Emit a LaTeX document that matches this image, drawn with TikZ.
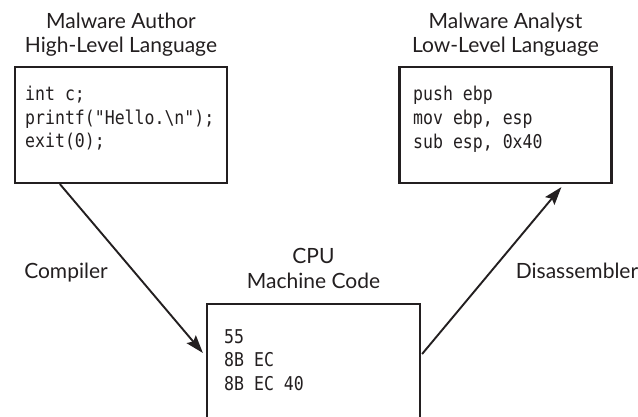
\documentclass[tikz,border=0pt]{standalone}
\usepackage{fontspec}
\setmainfont{Lato}
\newfontfamily\codefont[FakeStretch=0.87]{DejaVu Sans Mono}
\usetikzlibrary{arrows.meta,calc}
\definecolor{ink}{HTML}{231F20}
\tikzset{
  box/.style={draw=ink, line width=2.2pt, rectangle, inner sep=0pt, minimum width=212pt, minimum height=116pt},
  title/.style={anchor=base, inner sep=0pt, text=ink, font=\fontsize{21}{24}\selectfont},
  code/.style={anchor=base west, inner sep=0pt, text=ink, font=\codefont\fontsize{19}{22}\selectfont},
  conn/.style={draw=ink, line width=1.9pt, -{Stealth[length=18pt,width=12pt,inset=3pt]}},
}
\begin{document}
\begin{tikzpicture}[x=1pt,y=-1pt]
\useasboundingbox (0,0) rectangle (638,417);
\clip (0,0) rectangle (638,417);
\fill[white] (0,0) rectangle (638,417);
% boxes
\node[box] (author) at (121,125) {};
\node[box] (analyst) at (505.5,125) {};
\node[box, minimum width=213pt, minimum height=140pt, anchor=north] (cpu) at (313.5,303) {};
% titles
\node[title] (t1) at (121,29) {Malware Author};
\node[title] (t2) at (121,53) {High-Level Language};
\node[title] (t3) at (505.5,29) {Malware Analyst};
\node[title] (t4) at (505.5,53) {Low-Level Language};
\node[title] (t5) at (313.5,264) {CPU};
\node[title] (t6) at (313.5,288) {Machine Code};
% code
\node[code] (a1) at (25,101) {int c;};
\node[code] (a2) at (25,124.5) {printf("Hello.\textbackslash n");};
\node[code] (a3) at (25,148) {exit(0);};
\node[code] (b1) at (413,101) {push ebp};
\node[code] (b2) at (413,125) {mov ebp, esp};
\node[code] (b3) at (413,149) {sub esp, 0x40};
\node[code] (c1) at (224,343) {55};
\node[code] (c2) at (224,366.5) {8B EC};
\node[code] (c3) at (224,390) {8B EC 40};
% labels
\node[title] (lc) at (66,278) {Compiler};
\node[title] (ld) at (577,278) {Disassembler};
% connectors
\draw[conn] ($(author.south west)+(46,0)$) -- ($(cpu.north west)+(-3,50)$);
\draw[conn] ($(cpu.north east)+(1,51)$) -- ($(analyst.south west)+(163,3)$);
\end{tikzpicture}
\end{document}
